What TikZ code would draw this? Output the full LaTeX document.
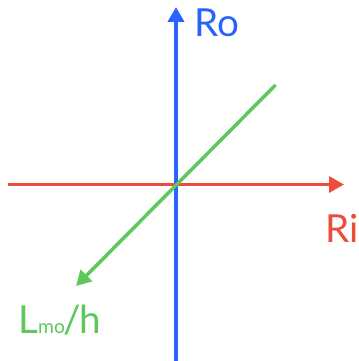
\documentclass[tikz,border=0pt]{standalone}
\usepackage{fontspec}
\setmainfont{Lato}
\usepackage{tikz}
\usetikzlibrary{arrows.meta}
\definecolor{axisro}{RGB}{41,98,255}
\definecolor{axisri}{RGB}{236,76,58}
\definecolor{axislmo}{RGB}{94,200,90}

\begin{document}
\begin{tikzpicture}[x=0.02cm,y=-0.02cm,
    axis/.style={line width=0.075cm,-{Triangle[length=0.30cm,width=0.32cm]}},
    lbl/.style={font=\fontsize{22}{26}\selectfont,inner sep=0pt}]
  \useasboundingbox (0,0) rectangle (358,361);
  % axis end points
  \coordinate (rostart) at (176,361);
  \coordinate (roend)   at (176,7);
  \coordinate (ristart) at (8,184.5);
  \coordinate (riend)   at (344,184.5);
  \coordinate (lmostart) at (275.5,85);
  \coordinate (lmoend)   at (76,286);
  \draw[axis,axisro]  (rostart) -- (roend);
  \draw[axis,axisri,line width=0.065cm]  (ristart) -- (riend);
  \draw[axis,axislmo,line width=0.07cm] (lmostart) -- (lmoend);
  % labels
  \node[lbl,axisro,anchor=base west]  (ro)  at (194,37)  {Ro};
  \node[lbl,axisri,anchor=base west]  (ri)  at (325,242) {Ri};
  \node[lbl,axislmo,anchor=base west] (lmo) at (18,333)
        {L{\fontsize{11}{12}\selectfont mo}\kern-1pt/\kern-1pt h};
\end{tikzpicture}
\end{document}
